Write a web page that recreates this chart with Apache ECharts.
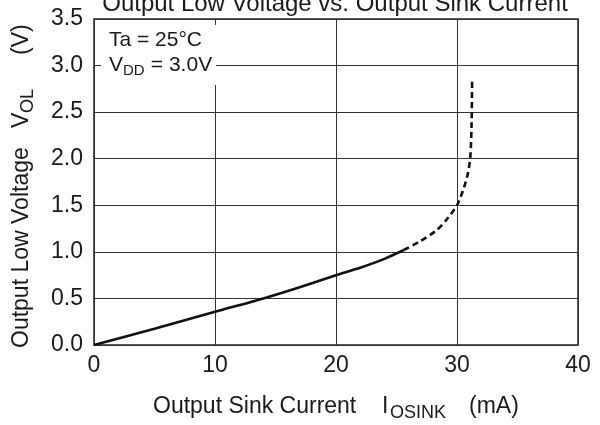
<!DOCTYPE html>
<html>
<head>
<meta charset="utf-8">
<script src="https://cdn.jsdelivr.net/npm/echarts@6/dist/echarts.min.js"></script>
<style>
html,body{margin:0;padding:0;background:#fff;}
#chart{width:600px;height:425px;}
</style>
</head>
<body>
<div id="chart"></div>
<script>
// Data
var solidCurrent = [0, 5, 10, 14, 17, 20, 22, 24, 25.6];
var solidVoltage = [0, 0.175, 0.357, 0.5, 0.62, 0.75, 0.83, 0.925, 1.02];
var dashCurrent = [25.6, 26.9, 28.3, 29.1, 30.0, 30.5, 30.9, 31.1, 31.2, 31.25];
var dashVoltage = [1.02, 1.11, 1.23, 1.34, 1.50, 1.66, 1.84, 2.02, 2.34, 2.86];
var xTicks = [0, 10, 20, 30, 40];
var yTicks = [0, 0.5, 1.0, 1.5, 2.0, 2.5, 3.0, 3.5];

var FONT = '"Liberation Sans", Arial, sans-serif';
var TXT = '#1a1a1a';

function pairs(xs, ys) { return xs.map(function (x, i) { return [x, ys[i]]; }); }

var chart = echarts.init(document.getElementById('chart'), null, {renderer: 'canvas'});
chart.setOption({
  animation: false,
  backgroundColor: '#fff',
  grid: {left: 94, right: 22, top: 19, bottom: 80, show: true, borderColor: '#222', borderWidth: 1.5, backgroundColor: 'transparent'},
  xAxis: {
    type: 'value', min: xTicks[0], max: xTicks[xTicks.length - 1], interval: 10,
    axisLine: {show: false}, axisTick: {show: false},
    axisLabel: {color: TXT, fontSize: 23, fontFamily: FONT, margin: 9, showMinLabel: true, showMaxLabel: true},
    splitLine: {show: true, lineStyle: {color: '#333', width: 1}}
  },
  yAxis: {
    type: 'value', min: yTicks[0], max: yTicks[yTicks.length - 1], interval: 0.5,
    axisLine: {show: false}, axisTick: {show: false},
    axisLabel: {color: TXT, fontSize: 23, fontFamily: FONT, margin: 11, formatter: function (v) { return v.toFixed(1); }},
    splitLine: {show: true, lineStyle: {color: '#333', width: 1}}
  },
  series: [
    {type: 'line', data: pairs(solidCurrent, solidVoltage), smooth: 0.25, symbol: 'none',
     lineStyle: {color: '#111', width: 2.6}, z: 5},
    {type: 'line', data: pairs(dashCurrent, dashVoltage), smooth: 0.25, symbol: 'none',
     lineStyle: {color: '#111', width: 2.6, type: [6, 4]}, z: 5}
  ],
  graphic: [
    {type: 'rect', z: 100, shape: {x: 101, y: 25, width: 115, height: 60}, style: {fill: '#fff'}},
    {type: 'text', z: 101, x: 335, y: 4, style: {text: 'Output Low Voltage vs. Output Sink Current', font: '24px ' + FONT, fill: TXT, align: 'center', verticalAlign: 'middle'}},
    {type: 'text', z: 101, x: 109, y: 40, style: {text: 'Ta = 25°C', font: '21px ' + FONT, fill: TXT, align: 'left', verticalAlign: 'middle'}},
    {type: 'text', z: 101, x: 109, y: 65, style: {text: 'V', font: '21px ' + FONT, fill: TXT, align: 'left', verticalAlign: 'middle'}},
    {type: 'text', z: 101, x: 123, y: 71, style: {text: 'DD', font: '15px ' + FONT, fill: TXT, align: 'left', verticalAlign: 'middle'}},
    {type: 'text', z: 101, x: 145, y: 65, style: {text: ' = 3.0V', font: '21px ' + FONT, fill: TXT, align: 'left', verticalAlign: 'middle'}},
    {type: 'text', z: 101, x: 153, y: 407, style: {text: 'Output Sink Current', font: '23px ' + FONT, fill: TXT, align: 'left', verticalAlign: 'middle'}},
    {type: 'text', z: 101, x: 382, y: 407, style: {text: 'I', font: '23px ' + FONT, fill: TXT, align: 'left', verticalAlign: 'middle'}},
    {type: 'text', z: 101, x: 390, y: 413, style: {text: 'OSINK', font: '18px ' + FONT, fill: TXT, align: 'left', verticalAlign: 'middle'}},
    {type: 'text', z: 101, x: 469, y: 407, style: {text: '(mA)', font: '23px ' + FONT, fill: TXT, align: 'left', verticalAlign: 'middle'}},
    {type: 'group', z: 101, x: 22, y: 348, rotation: Math.PI / 2, children: [
      {type: 'text', z: 101, x: 0, y: 0, style: {text: 'Output Low Voltage', font: '23px ' + FONT, fill: TXT, align: 'left', verticalAlign: 'middle'}},
      {type: 'text', z: 101, x: 220, y: 0, style: {text: 'V', font: '23px ' + FONT, fill: TXT, align: 'left', verticalAlign: 'middle'}},
      {type: 'text', z: 101, x: 235, y: 6, style: {text: 'OL', font: '18px ' + FONT, fill: TXT, align: 'left', verticalAlign: 'middle'}},
      {type: 'text', z: 101, x: 293, y: 0, style: {text: '(V)', font: '23px ' + FONT, fill: TXT, align: 'left', verticalAlign: 'middle'}}
    ]}
  ]
});
</script>
</body>
</html>
